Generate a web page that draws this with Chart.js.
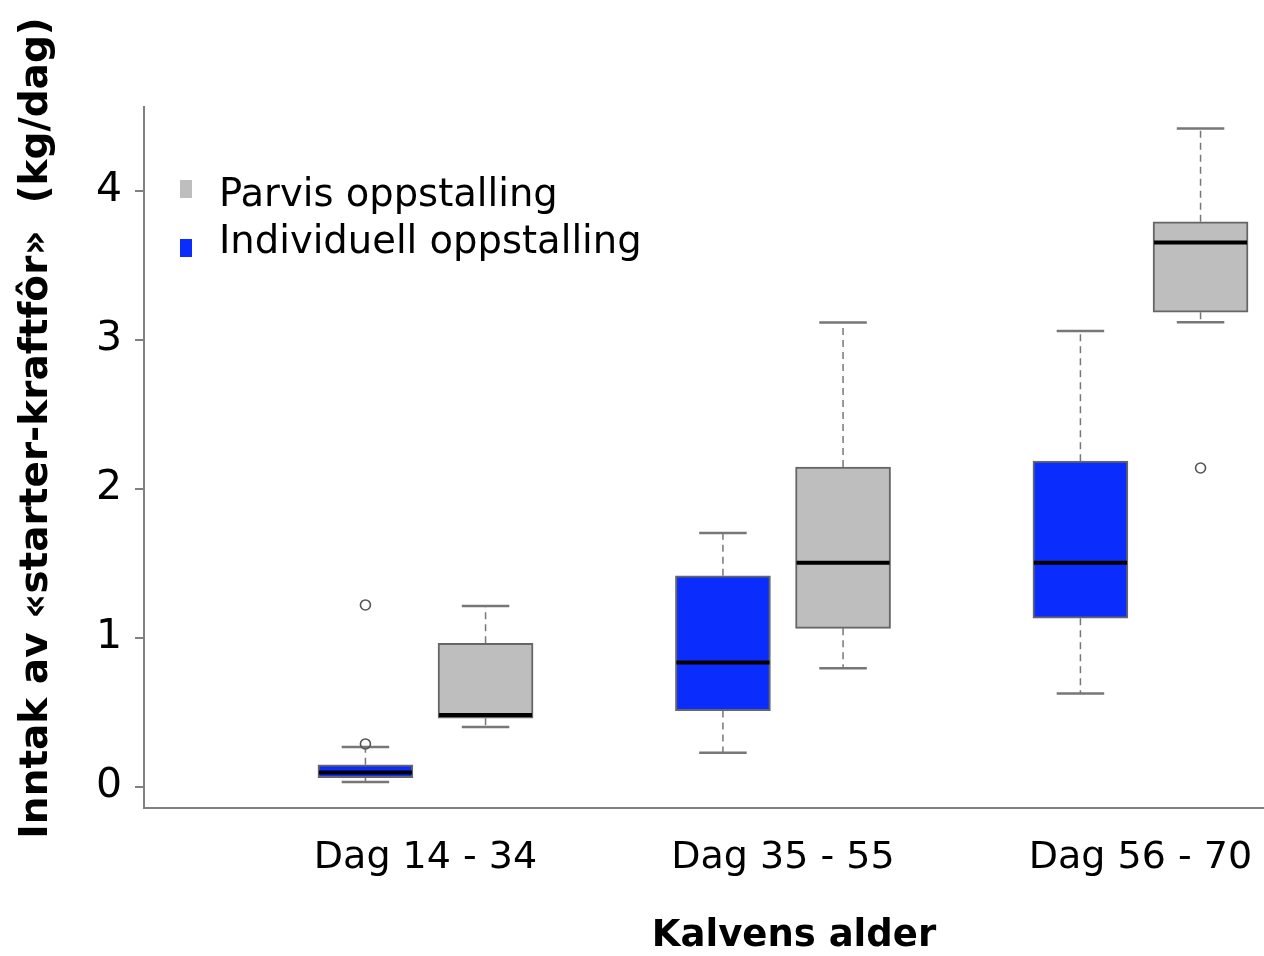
<!DOCTYPE html>
<html>
<head>
<meta charset="utf-8">
<title>Inntak av starter-kraftfôr</title>
<script src="https://cdn.jsdelivr.net/npm/chart.js@4.4.1/dist/chart.umd.min.js"></script>
<style>
  html, body { margin: 0; background: #fff; }
  #wrap { width: 1264px; height: 956px; position: relative; }
</style>
</head>
<body>
<div id="wrap"><canvas id="chart"></canvas></div>
<script>
// categories and tick labels
const categories = ['Dag 14 - 34', 'Dag 35 - 55', 'Dag 56 - 70'];
const yTickValues = [0, 1, 2, 3, 4];
const seriesNames = ['Parvis oppstalling', 'Individuell oppstalling'];

// Individuell oppstalling (blue)
const indivMin = [0.031, 0.228, 0.626];
const indivQ1 = [0.060, 0.511, 1.131];
const indivMedian = [0.095, 0.833, 1.503];
const indivQ3 = [0.147, 1.416, 2.185];
const indivMax = [0.266, 1.702, 3.059];
const indivOutliers = [[0.287, 1.220], [], []];

// Parvis oppstalling (gray)
const parvisMin = [0.400, 0.795, 3.118];
const parvisQ1 = [0.460, 1.063, 3.185];
const parvisMedian = [0.482, 1.503, 3.652];
const parvisQ3 = [0.963, 2.146, 3.792];
const parvisMax = [1.213, 3.116, 4.418];
const parvisOutliers = [[], [], [2.139]];

const GRAY = '#bebebe';
const BLUE = '#0a2dfd';
const EDGE = '#666';
const WHISKER = '#777';
const OFFSET = 0.168; // half the distance between the two boxes of a group, in x units

function boxes(q1, q3, shift) {
  return categories.map((c, i) => ({ x: i + 1 + shift, y: [q1[i], q3[i]] }));
}

function outlierPoints(list, shift) {
  const pts = [];
  list.forEach((vals, i) => vals.forEach(v => pts.push({ x: i + 1 + shift, y: v })));
  return pts;
}

const boxPlotPlugin = {
  id: 'boxPlot',
  beforeDatasetsDraw(chart) {
    const ctx = chart.ctx;
    const y = chart.scales.y;
    chart.data.datasets.forEach((ds, di) => {
      if (!ds.whiskerLow) return;
      const meta = chart.getDatasetMeta(di);
      meta.data.forEach((bar, i) => {
        const x = bar.x;
        const half = bar.width / 4;
        const top = y.getPixelForValue(ds.data[i].y[1]);
        const bottom = y.getPixelForValue(ds.data[i].y[0]);
        const hi = y.getPixelForValue(ds.whiskerHigh[i]);
        const lo = y.getPixelForValue(ds.whiskerLow[i]);
        ctx.save();
        ctx.strokeStyle = WHISKER;
        ctx.lineWidth = 1.5;
        ctx.setLineDash([7, 5]);
        ctx.beginPath();
        ctx.moveTo(x, top); ctx.lineTo(x, hi);
        ctx.moveTo(x, bottom); ctx.lineTo(x, lo);
        ctx.stroke();
        ctx.setLineDash([]);
        ctx.lineWidth = 2.5;
        ctx.beginPath();
        ctx.moveTo(x - half, hi); ctx.lineTo(x + half, hi);
        ctx.moveTo(x - half, lo); ctx.lineTo(x + half, lo);
        ctx.stroke();
        ctx.restore();
      });
    });
  },
  afterDatasetsDraw(chart) {
    const ctx = chart.ctx;
    const y = chart.scales.y;
    chart.data.datasets.forEach((ds, di) => {
      if (!ds.median) return;
      const meta = chart.getDatasetMeta(di);
      meta.data.forEach((bar, i) => {
        const py = y.getPixelForValue(ds.median[i]);
        ctx.save();
        ctx.strokeStyle = '#000';
        ctx.lineWidth = 4;
        ctx.beginPath();
        ctx.moveTo(bar.x - bar.width / 2 + 1, py);
        ctx.lineTo(bar.x + bar.width / 2 - 1, py);
        ctx.stroke();
        ctx.restore();
      });
    });
  },
  afterDraw(chart) {
    const ctx = chart.ctx;
    ctx.save();
    // legend
    const items = [
      { label: seriesNames[0], color: GRAY, box: [180, 180, 12, 18], base: 206 },
      { label: seriesNames[1], color: BLUE, box: [180, 239, 12, 18], base: 253 }
    ];
    ctx.font = '38.5px "DejaVu Sans"';
    ctx.textBaseline = 'alphabetic';
    ctx.textAlign = 'left';
    items.forEach(it => {
      ctx.fillStyle = it.color;
      ctx.fillRect(...it.box);
      ctx.fillStyle = '#000';
      ctx.fillText(it.label, 219, it.base);
    });
    // x axis title
    ctx.font = 'bold 37px "DejaVu Sans"';
    ctx.textAlign = 'center';
    ctx.fillText('Kalvens alder', 794, 946);
    // y axis title
    ctx.translate(37, 428);
    ctx.rotate(-Math.PI / 2);
    ctx.font = 'bold 39px "DejaVu Sans"';
    ctx.textBaseline = 'middle';
    ctx.fillText('Inntak av «starter-kraftfôr»  (kg/dag)', 0, 0);
    ctx.restore();
  }
};

Chart.defaults.font.family = '"DejaVu Sans"';
Chart.defaults.color = '#000';

new Chart(document.getElementById('chart'), {
  type: 'bar',
  data: {
    datasets: [
      {
        label: seriesNames[1],
        data: boxes(indivQ1, indivQ3, -OFFSET),
        median: indivMedian,
        whiskerLow: indivMin,
        whiskerHigh: indivMax,
        backgroundColor: BLUE,
        borderColor: EDGE,
        borderWidth: 2,
        borderSkipped: false,
        barThickness: 95,
        grouped: false
      },
      {
        label: seriesNames[0],
        data: boxes(parvisQ1, parvisQ3, OFFSET),
        median: parvisMedian,
        whiskerLow: parvisMin,
        whiskerHigh: parvisMax,
        backgroundColor: GRAY,
        borderColor: EDGE,
        borderWidth: 2,
        borderSkipped: false,
        barThickness: 95,
        grouped: false
      },
      {
        type: 'scatter',
        label: 'outliers',
        data: outlierPoints(indivOutliers, -OFFSET).concat(outlierPoints(parvisOutliers, OFFSET)),
        pointStyle: 'circle',
        pointRadius: 5,
        borderColor: '#555',
        borderWidth: 1.6,
        backgroundColor: 'rgba(0,0,0,0)'
      }
    ]
  },
  options: {
    responsive: true,
    maintainAspectRatio: false,
    animation: false,
    layout: { autoPadding: false, padding: { top: 107, right: 0, left: 0, bottom: 0 } },
    plugins: {
      legend: { display: false },
      tooltip: { enabled: false }
    },
    scales: {
      x: {
        type: 'linear',
        min: 0.2126,
        max: 3.3455,
        offset: false,
        grid: { display: false },
        border: { display: true, color: '#808080', width: 2 },
        afterBuildTicks: axis => { axis.ticks = categories.map((c, i) => ({ value: i + 1 })); },
        afterFit: axis => {
          axis.height = 148;
          axis.paddingLeft = 0;
          axis.paddingRight = 0;
        },
        ticks: {
          autoSkip: false,
          maxRotation: 0,
          padding: 19,
          font: { size: 38 },
          color: '#000',
          callback: (v, i) => categories[i]
        }
      },
      y: {
        min: -0.143,
        max: 4.562,
        afterBuildTicks: axis => { axis.ticks = yTickValues.map(v => ({ value: v })); },
        afterFit: axis => {
          axis.width = 144;
          axis.paddingTop = 0;
          axis.paddingBottom = 0;
        },
        grid: { drawOnChartArea: false, drawTicks: true, tickLength: 9, color: '#808080', lineWidth: 2 },
        border: { display: true, color: '#808080', width: 2 },
        ticks: { padding: 13, font: { size: 41 }, color: '#000' }
      }
    }
  },
  plugins: [boxPlotPlugin]
});
</script>
</body>
</html>
